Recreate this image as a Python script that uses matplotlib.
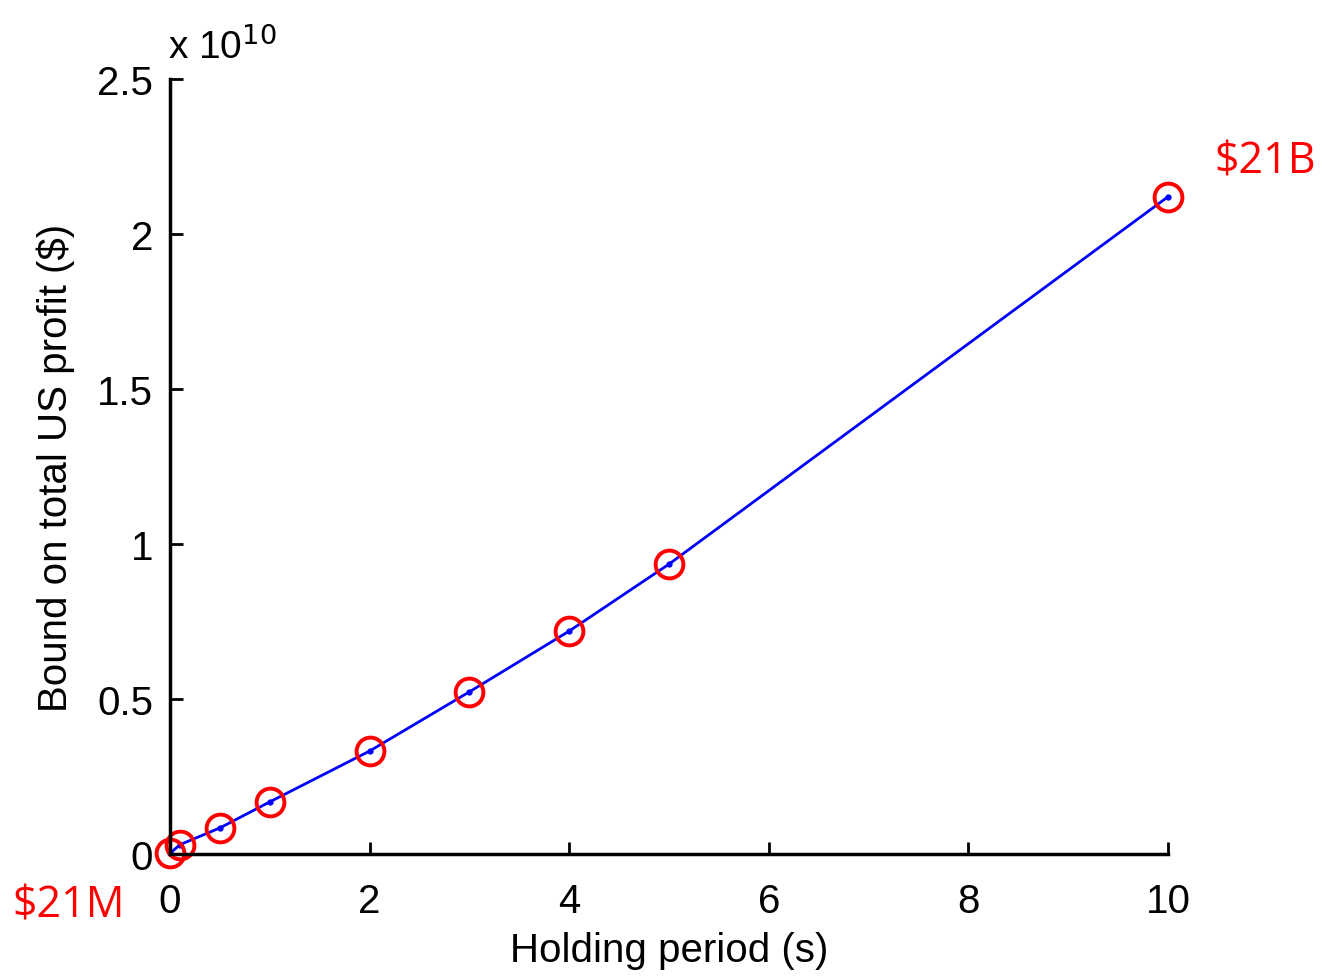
import matplotlib
matplotlib.use("Agg")
import matplotlib.pyplot as plt
from matplotlib.ticker import FuncFormatter

plt.rcParams["font.family"] = ["Liberation Sans", "DejaVu Sans"]

# holding period (s) vs. upper bound on total US profit ($)
holding = [0, 0.1, 0.5, 1, 2, 3, 4, 5, 10]
profit = [0.0021e10, 0.03e10, 0.084e10, 0.168e10, 0.332e10, 0.523e10, 0.719e10, 0.935e10, 2.12e10]

xticks = [0, 2, 4, 6, 8, 10]
yticks = [0, 0.5e10, 1e10, 1.5e10, 2e10, 2.5e10]

fig = plt.figure(figsize=(13.22, 9.79), dpi=100)
ax = fig.add_axes([0.1286, 0.1267, 0.7549, 0.7916])

ax.plot(holding, profit, color="blue", lw=2, marker=".", markersize=7)
ax.plot(holding, profit, linestyle="None", marker="o", markersize=20,
        markerfacecolor="none", markeredgecolor="red", markeredgewidth=2.8)

ax.set_xlim(0, 10)
ax.set_ylim(0, 2.5e10)
ax.set_xticks(xticks)
ax.set_yticks(yticks)
ax.yaxis.set_major_formatter(FuncFormatter(lambda v, p: f"{v / 1e10:g}"))

for side in ("top", "right"):
    ax.spines[side].set_visible(False)
for side in ("left", "bottom"):
    ax.spines[side].set_linewidth(2.5)
ax.tick_params(direction="in", length=9, width=2, labelsize=29, pad=20)
ax.tick_params(axis="y", pad=12)
for line in ax.lines:
    line.set_clip_on(False)

ax.set_xlabel("Holding period (s)", fontsize=29, labelpad=8)
ax.set_ylabel("Bound on total US profit ($)", fontsize=29, labelpad=16)

# scale factor above the y axis
fig.text(0.127, 0.952, r"x 10$^{10}$", fontsize=28, ha="left", va="center")

# callouts for the end points
fig.text(0.957, 0.834, "$21B", color="red", fontsize=31, ha="center", va="center",
         family="Open Sans")
fig.text(0.052, 0.074, "$21M", color="red", fontsize=31, ha="center", va="center",
         family="Open Sans")

fig.savefig("out.png", dpi=100)
